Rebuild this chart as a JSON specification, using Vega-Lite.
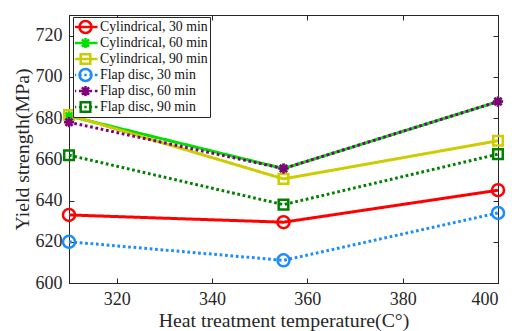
{
  "$schema": "https://vega.github.io/schema/vega-lite/v6.json",
  "width": 429,
  "height": 268,
  "autosize": {"type": "none"},
  "padding": {"left": 69, "top": 15, "right": 17, "bottom": 48},
  "background": "white",
  "config": {
    "view": {"stroke": "#262626", "strokeWidth": 1},
    "axis": {
      "domainColor": "#262626",
      "tickColor": "#262626",
      "labelColor": "#262626",
      "titleColor": "#262626",
      "labelFont": "Liberation Serif",
      "titleFont": "Liberation Serif",
      "labelFontSize": 18,
      "titleFontSize": 19.8,
      "titleFontWeight": "normal",
      "grid": false,
      "tickSize": -5
    },
    "legend": {
      "orient": "none", "legendX": 4, "legendY": 2, "title": null,
      "strokeColor": "#262626", "fillColor": "white", "padding": 2, "cornerRadius": 0,
      "labelFont": "Liberation Serif", "labelFontSize": 13.8, "labelColor": "#111111",
      "symbolSize": 144, "symbolStrokeWidth": 2.5, "rowPadding": 0, "clipHeight": 16,
      "symbolOffset": 3, "labelOffset": 7
    }
  },
  "data": {
    "values": [
      {"temp": 310, "ys": 633, "series": "Cylindrical, 30 min"},
      {"temp": 355, "ys": 629.5, "series": "Cylindrical, 30 min"},
      {"temp": 400, "ys": 645, "series": "Cylindrical, 30 min"},
      {"temp": 310, "ys": 681, "series": "Cylindrical, 60 min"},
      {"temp": 355, "ys": 655.5, "series": "Cylindrical, 60 min"},
      {"temp": 400, "ys": 688, "series": "Cylindrical, 60 min"},
      {"temp": 310, "ys": 681.5, "series": "Cylindrical, 90 min"},
      {"temp": 355, "ys": 650.5, "series": "Cylindrical, 90 min"},
      {"temp": 400, "ys": 669, "series": "Cylindrical, 90 min"},
      {"temp": 310, "ys": 620, "series": "Flap disc, 30 min"},
      {"temp": 355, "ys": 611, "series": "Flap disc, 30 min"},
      {"temp": 400, "ys": 634, "series": "Flap disc, 30 min"},
      {"temp": 310, "ys": 678, "series": "Flap disc, 60 min"},
      {"temp": 355, "ys": 655.5, "series": "Flap disc, 60 min"},
      {"temp": 400, "ys": 688, "series": "Flap disc, 60 min"},
      {"temp": 310, "ys": 662, "series": "Flap disc, 90 min"},
      {"temp": 355, "ys": 638, "series": "Flap disc, 90 min"},
      {"temp": 400, "ys": 662.5, "series": "Flap disc, 90 min"}
    ]
  },
  "layer": [
    {
      "mark": {"type": "line", "strokeWidth": 3, "strokeCap": "butt"},
      "encoding": {
        "x": {"field": "temp", "type": "quantitative", "scale": {"domain": [310, 400], "nice": false, "zero": false},
              "axis": {"orient": "bottom", "values": [320, 340, 360, 380, 400], "title": "Heat treatment temperature(C°)", "labelPadding": 12, "titlePadding": 2}},
        "y": {"field": "ys", "type": "quantitative", "scale": {"domain": [600, 730], "nice": false, "zero": false},
              "axis": {"orient": "left", "values": [600, 620, 640, 660, 680, 700, 720], "title": "Yield strength(MPa)", "labelPadding": 12, "titlePadding": 3}},
        "color": {"field": "series", "type": "nominal", "legend": null,
                  "scale": {"domain": ["Cylindrical, 30 min", "Cylindrical, 60 min", "Cylindrical, 90 min", "Flap disc, 30 min", "Flap disc, 60 min", "Flap disc, 90 min"],
                            "range": ["#ff0000", "#00e000", "#cccc00", "#1a8cff", "#800080", "#008000"]}},
        "strokeDash": {"field": "series", "type": "nominal", "legend": null,
                  "scale": {"domain": ["Cylindrical, 30 min", "Cylindrical, 60 min", "Cylindrical, 90 min", "Flap disc, 30 min", "Flap disc, 60 min", "Flap disc, 90 min"],
                            "range": [[1, 0], [1, 0], [1, 0], [2.7, 2.7], [2.7, 2.7], [2.7, 2.7]]}}
      }
    },
    {
      "mark": {"type": "point", "filled": false, "strokeWidth": 2.5, "size": 144, "opacity": 1},
      "encoding": {
        "x": {"field": "temp", "type": "quantitative", "axis": {"orient": "top", "values": [320, 340, 360, 380, 400], "labels": false, "title": null}},
        "y": {"field": "ys", "type": "quantitative", "axis": {"orient": "right", "values": [600, 620, 640, 660, 680, 700, 720], "labels": false, "title": null}},
        "color": {"field": "series", "type": "nominal", "legend": null,
                  "scale": {"domain": ["Cylindrical, 30 min", "Cylindrical, 60 min", "Cylindrical, 90 min", "Flap disc, 30 min", "Flap disc, 60 min", "Flap disc, 90 min"],
                            "range": ["#ff0000", "#00e000", "#cccc00", "#1a8cff", "#800080", "#008000"]}},
        "shape": {"field": "series", "type": "nominal", "legend": null,
                  "scale": {"domain": ["Cylindrical, 30 min", "Cylindrical, 60 min", "Cylindrical, 90 min", "Flap disc, 30 min", "Flap disc, 60 min", "Flap disc, 90 min"],
                            "range": ["M-1,0A1,1,0,1,1,1,0A1,1,0,1,1,-1,0Z", "M0,-0.85V0.85M-0.85,0H0.85M-0.6,-0.6L0.6,0.6M-0.6,0.6L0.6,-0.6", "M-0.8,-0.8H0.8V0.8H-0.8Z", "M-1,0A1,1,0,1,1,1,0A1,1,0,1,1,-1,0Z", "M0,-0.85V0.85M-0.85,0H0.85M-0.6,-0.6L0.6,0.6M-0.6,0.6L0.6,-0.6", "M-0.8,-0.8H0.8V0.8H-0.8Z"]}}
      }
    },
    {
      "data": {"values": []},
      "mark": {"type": "point", "filled": false, "strokeWidth": 2.5, "size": 144, "opacity": 1},
      "encoding": {
        "x": {"field": "temp", "type": "quantitative", "axis": null},
        "y": {"field": "ys", "type": "quantitative", "axis": null},
        "color": {"field": "series", "type": "nominal",
                  "scale": {"domain": ["Cylindrical, 30 min", "Cylindrical, 60 min", "Cylindrical, 90 min", "Flap disc, 30 min", "Flap disc, 60 min", "Flap disc, 90 min"],
                            "range": ["#ff0000", "#00e000", "#cccc00", "#1a8cff", "#800080", "#008000"]}},
        "shape": {"field": "series", "type": "nominal",
                  "scale": {"domain": ["Cylindrical, 30 min", "Cylindrical, 60 min", "Cylindrical, 90 min", "Flap disc, 30 min", "Flap disc, 60 min", "Flap disc, 90 min"],
                            "range": ["M-2,0H2M-1,0A1,1,0,1,1,1,0A1,1,0,1,1,-1,0Z", "M-2,0H2M0,-0.85V0.85M-0.85,0H0.85M-0.6,-0.6L0.6,0.6M-0.6,0.6L0.6,-0.6", "M-2,0H2M-0.8,-0.8H0.8V0.8H-0.8Z", "M-2,0H-1.55M-1.1,0H-0.65M-0.2,0H0.2M0.65,0H1.1M1.55,0H2M-1,0A1,1,0,1,1,1,0A1,1,0,1,1,-1,0Z", "M-2,0H-1.55M-1.1,0H-0.65M-0.2,0H0.2M0.65,0H1.1M1.55,0H2M0,-0.85V0.85M-0.85,0H0.85M-0.6,-0.6L0.6,0.6M-0.6,0.6L0.6,-0.6", "M-2,0H-1.55M-1.1,0H-0.65M-0.2,0H0.2M0.65,0H1.1M1.55,0H2M-0.8,-0.8H0.8V0.8H-0.8Z"]}}
      }
    }
  ],
  "resolve": {"axis": {"x": "independent", "y": "independent"}, "scale": {"color": "independent", "shape": "independent"}}
}
